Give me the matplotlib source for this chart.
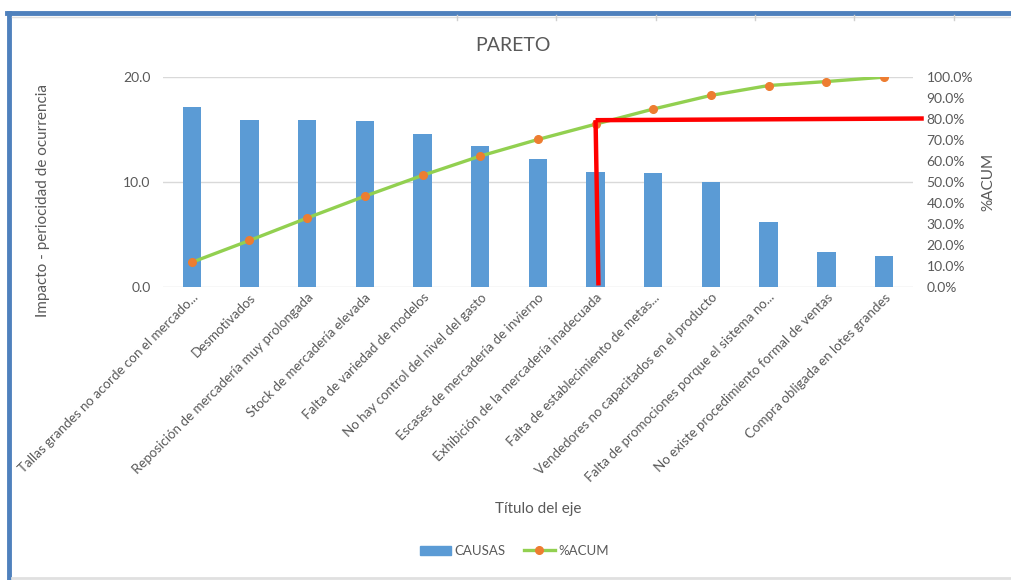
import matplotlib
matplotlib.use("Agg")
import matplotlib.pyplot as plt
from matplotlib.lines import Line2D
from matplotlib.patches import Patch

plt.rcParams["font.family"] = ["Lato", "DejaVu Sans"]

causas = [
    "Tallas grandes no acorde con el mercado...",
    "Desmotivados",
    "Reposición de mercadería muy prolongada",
    "Stock de mercadería elevada",
    "Falta de variedad de modelos",
    "No hay control del nivel del gasto",
    "Escases de mercadería de invierno",
    "Exhibición de la mercadería inadecuada",
    "Falta de establecimiento de metas...",
    "Vendedores no capacitados en el producto",
    "Falta de promociones porque el sistema no...",
    "No existe procedimiento formal de ventas",
    "Compra obligada en lotes grandes",
]
impacto = [17.2, 15.9, 15.9, 15.8, 14.6, 13.4, 12.2, 11.0, 10.9, 10.0, 6.2, 3.3, 3.0]
acum = [11.8, 22.2, 32.9, 43.3, 53.2, 62.4, 70.3, 77.6, 84.8, 91.3, 96.0, 97.9, 100.0]
left_ticks = [0, 10, 20]
right_ticks = [0, 10, 20, 30, 40, 50, 60, 70, 80, 90, 100]
corte_idx = 7      # category where the 80 % cut is marked
corte_pct = 79.5

GRAY = "#595959"
BLUE = "#5B9BD5"
GREEN = "#92D050"
ORANGE = "#ED7D31"

fig = plt.figure(figsize=(10.12, 5.8), dpi=100)
ax = fig.add_axes([0.161, 0.505, 0.741, 0.362])
ax2 = ax.twinx()

x = list(range(len(causas)))
ax.bar(x, impacto, width=0.32, color=BLUE, zorder=2)
ax.set_xlim(-0.5, len(causas) - 0.5)
ax.set_ylim(0, 20)
ax.set_yticks(left_ticks)
ax.set_yticklabels([f"{v:.1f}" for v in left_ticks])
ax.yaxis.grid(True, color="#D9D9D9", lw=1, zorder=0)
ax.set_axisbelow(True)
for s in ax.spines.values():
    s.set_visible(False)
for s in ax2.spines.values():
    s.set_visible(False)
ax.tick_params(axis="y", length=0, colors=GRAY, labelsize=10, pad=9)
ax.tick_params(axis="x", length=0, colors=GRAY, pad=3)
ax.set_xticks(x)
ax.set_xticklabels(causas, rotation=45, ha="right", va="top",
                   rotation_mode="anchor", fontsize=9.6, color=GRAY)

ax2.plot(x, acum, color=GREEN, lw=2.4, marker="o", ms=5.5,
         mfc=ORANGE, mec=ORANGE, zorder=3)
ax2.set_ylim(0, 100)
ax2.set_yticks(right_ticks)
ax2.set_yticklabels([f"{v:.1f}%" for v in right_ticks])
ax2.tick_params(axis="y", length=0, colors=GRAY, labelsize=10, pad=10)
ax2.set_ylabel("%ACUM", color=GRAY, fontsize=11, labelpad=6)

# 80/20 cut lines
ax2.plot([corte_idx, corte_idx + 0.05], [corte_pct, 0.8], color="red", lw=3.2,
         solid_capstyle="butt", zorder=4, clip_on=False)
ax2.plot([corte_idx, 12.69], [corte_pct, 80.3], color="red", lw=3.2,
         solid_capstyle="butt", zorder=4, clip_on=False)

fig.text(0.507, 0.922, "PARETO", ha="center", va="center", fontsize=14, color=GRAY)
fig.text(0.042, 0.655, "Impacto - periocidad de ocurrencia", rotation=90,
         ha="center", va="center", fontsize=11, color=GRAY)
fig.text(0.532, 0.123, "Título del eje", ha="center", va="center",
         fontsize=11, color=GRAY)

handles = [Patch(color=BLUE, label="CAUSAS"),
           Line2D([], [], color=GREEN, lw=2.4, marker="o", ms=5.5,
                  mfc=ORANGE, mec=ORANGE, label="%ACUM")]
fig.legend(handles=handles, loc="center", bbox_to_anchor=(0.508, 0.05), ncol=2,
           frameon=False, fontsize=9.5, labelcolor=GRAY, handlelength=2.4,
           handletextpad=0.2, columnspacing=1.4)

# spreadsheet frame around the chart
fig.add_artist(Line2D([0.009, 0.009], [0.0, 0.978], color="#4F81BD", lw=3.5))
fig.add_artist(Line2D([0.007, 1.0], [0.978, 0.978], color="#4F81BD", lw=3.5))
fig.add_artist(Line2D([0.012, 1.0], [0.971, 0.971], color="#E0E0E0", lw=1))
fig.add_artist(Line2D([0.012, 1.0], [0.003, 0.003], color="#E0E0E0", lw=2))
for xc in [457, 556, 656, 755, 854, 954]:
    fig.add_artist(Line2D([xc / 1012, xc / 1012], [0.966, 0.975],
                          color="#D0D0D0", lw=1))

fig.savefig("out.png", dpi=100)
